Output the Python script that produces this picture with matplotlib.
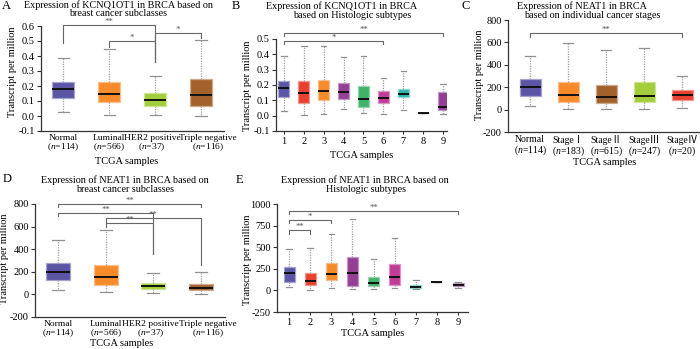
import matplotlib
matplotlib.use("Agg")
import matplotlib.pyplot as plt
import matplotlib.colors as mcolors
from matplotlib.transforms import ScaledTranslation

plt.rcParams['font.family'] = ['Liberation Serif', 'Noto Sans CJK SC', 'DejaVu Sans']
plt.rcParams['mathtext.fontset'] = 'custom'
plt.rcParams['mathtext.it'] = 'Liberation Serif:italic'
plt.rcParams['mathtext.rm'] = 'Liberation Serif'

W, H = 700, 349

# colours
BLUE = '#5a55a5'
ORANGE = '#f68b2c'
LIME = '#a3cd3b'
BROWN = '#a3622c'
RED = '#e8412f'
PURPLE = '#933f93'
GREEN = '#3fb36a'
MAGENTA = '#c03c97'
TEAL = '#2bb5a9'
DARK = '#444444'

# ---- panel A: KCNQ1OT1, subclasses ----
a_labels = ['Normal\n($\\it{n}$=114)', 'Luminal\n($\\it{n}$=566)',
            'HER2 positive\n($\\it{n}$=37)', 'Triple negative\n($\\it{n}$=116)']
a_lo = [0.03, 0.005, 0.005, -0.002]
a_q1 = [0.12, 0.095, 0.07, 0.065]
a_med = [0.178, 0.15, 0.105, 0.143]
a_q3 = [0.23, 0.23, 0.155, 0.25]
a_hi = [0.385, 0.445, 0.265, 0.505]
a_colors = [BLUE, ORANGE, LIME, BROWN]
# (x1, x2, y, left leg end, right leg end, label)
a_sig = [(1, 3, 0.605, 0.487, 0.36, '**'),
         (2, 3, 0.498, 0.46, 0.36, '*'),
         (3, 4, 0.556, 0.36, 0.52, '*')]

# ---- panel B: KCNQ1OT1, histologic subtypes ----
b_labels = ['1', '2', '3', '4', '5', '6', '7', '8', '9']
b_lo = [0.033, 0.004, 0.009, 0.043, 0.02, 0.009, 0.037, 0.015, 0.013]
b_q1 = [0.124, 0.08, 0.102, 0.111, 0.054, 0.085, 0.124, 0.015, 0.035]
b_med = [0.178, 0.146, 0.161, 0.152, 0.109, 0.113, 0.139, 0.015, 0.054]
b_q3 = [0.228, 0.226, 0.233, 0.211, 0.196, 0.161, 0.172, 0.015, 0.152]
b_hi = [0.39, 0.456, 0.456, 0.383, 0.387, 0.248, 0.289, 0.015, 0.209]
b_colors = [BLUE, RED, ORANGE, PURPLE, GREEN, MAGENTA, TEAL, DARK, PURPLE]
b_sig = [(1, 9, 0.541, 0.522, 0.522, '**'),
         (1, 6, 0.487, 0.467, 0.467, '*')]

# ---- panel C: NEAT1, stages ----
c_labels = ['Normal\n($\\it{n}$=114)', 'StageⅠ\n($\\it{n}$=183)', 'StageⅡ\n($\\it{n}$=615)',
            'StageⅢ\n($\\it{n}$=247)', 'StageⅣ\n($\\it{n}$=20)']
c_lo = [36, 9, 3, 3, 15]
c_q1 = [119, 71, 59, 65, 83]
c_med = [199, 130, 113, 119, 127]
c_q3 = [273, 249, 216, 249, 172]
c_hi = [480, 599, 536, 551, 302]
c_colors = [BLUE, ORANGE, BROWN, LIME, RED]
c_sig = [(1, 5, 681, 646, 646, '**')]

# ---- panel D: NEAT1, subclasses ----
d_labels = a_labels
d_lo = [36, 18, 12, 6]
d_q1 = [125, 81, 50, 35]
d_med = [200, 152, 70, 56]
d_q3 = [275, 263, 100, 88]
d_hi = [480, 570, 188, 197]
d_colors = [BLUE, ORANGE, LIME, BROWN]
d_sig = [(1, 4, 800, 776, 776, '**'),
         (1, 3, 720, 697, 359, '**'),
         (2, 4, 673, 632, 256, '**'),
         (2, 3, 629, 600, 359, '**')]

# ---- panel E: NEAT1, histologic subtypes ----
e_labels = b_labels
e_lo = [38, 8, 27, 19, 15, 31, 19, 92, 23]
e_q1 = [99, 57, 118, 53, 46, 61, 23, 92, 46]
e_med = [198, 111, 187, 202, 88, 160, 38, 92, 61]
e_q3 = [267, 198, 321, 382, 153, 309, 61, 92, 80]
e_hi = [477, 485, 649, 828, 363, 607, 115, 92, 99]
e_colors = [BLUE, RED, ORANGE, PURPLE, GREEN, MAGENTA, TEAL, DARK, PURPLE]
e_sig = [(1, 9, 924, 886, 886, '**'),
         (1, 3, 817, 779, 779, '*'),
         (1, 2, 702, 657, 657, '**')]


def fx(x):
    return x / W


def fy(y):
    return 1 - y / H


def lighter(c, amt=0.45):
    r, g, b = mcolors.to_rgb(c)
    return (r + (1 - r) * amt, g + (1 - g) * amt, b + (1 - b) * amt)


def panel(box, lo, q1, med, q3, hi, colors, labels, ylim, yticks, yfmt,
          xlim, width, sig, xtick_len=0, xsize=7.5, shifts=None):
    l, t, r, b = box
    ax = fig.add_axes([fx(l), fy(b), fx(r - l), (b - t) / H])
    stats = [dict(whislo=lo[i], q1=q1[i], med=med[i], q3=q3[i], whishi=hi[i])
             for i in range(len(lo))]
    parts = ax.bxp(stats, positions=range(1, len(lo) + 1), widths=width,
                   patch_artist=True, showfliers=False,
                   whiskerprops=dict(color='#a0a0a0', lw=0.9, ls=(0, (1, 1))),
                   capprops=dict(color='#909090', lw=0.9),
                   medianprops=dict(color='#111111', lw=1.4),
                   capwidths=width * 0.5)
    for p, c in zip(parts['boxes'], colors):
        p.set_facecolor(c)
        p.set_edgecolor(lighter(c))
        p.set_linewidth(0.9)
    ax.set_xlim(*xlim)
    ax.set_ylim(*ylim)
    ax.set_yticks(yticks)
    ax.set_yticklabels([yfmt.format(v) for v in yticks])
    ax.set_xticks(range(1, len(lo) + 1))
    ax.set_xticklabels(labels, linespacing=0.95)
    ax.tick_params(axis='y', length=3, width=0.8, pad=1.5, labelsize=7.5, color='#333333')
    ax.tick_params(axis='x', length=xtick_len, width=0.8, pad=2, labelsize=xsize, color='#333333')
    if shifts:
        for lab, dx in zip(ax.get_xticklabels(), shifts):
            lab.set_transform(lab.get_transform() +
                              ScaledTranslation(dx / 100, 0, fig.dpi_scale_trans))
    for s in ['top', 'right']:
        ax.spines[s].set_visible(False)
    for s in ['left', 'bottom']:
        ax.spines[s].set_color('#333333')
        ax.spines[s].set_linewidth(0.9)
    span = ylim[1] - ylim[0]
    for x1, x2, y, l1, l2, txt in sig:
        ax.plot([x1, x1, x2, x2], [l1, y, y, l2], color='#666666', lw=0.8, clip_on=False)
        ax.text((x1 + x2) / 2, y - span * 0.008, txt, ha='center', va='bottom',
                fontsize=6.3, color='#555555', clip_on=False)
    return ax


fig = plt.figure(figsize=(W / 100, H / 100), dpi=100)

panel((41, 26, 224, 131), a_lo, a_q1, a_med, a_q3, a_hi, a_colors, a_labels,
      (-0.1, 0.6), [-0.1, 0.0, 0.1, 0.2, 0.3, 0.4, 0.5, 0.6], '{:.1f}',
      (0.52, 4.5), 0.48, a_sig, xsize=6.8, shifts=[0, 0, -3, 7])
panel((276, 39, 447, 131), b_lo, b_q1, b_med, b_q3, b_hi, b_colors, b_labels,
      (-0.1, 0.5), [-0.1, 0.0, 0.1, 0.2, 0.3, 0.4, 0.5], '{:.1f}',
      (0.6, 9.2), 0.55, b_sig, xtick_len=2)
panel((508, 20, 700, 132), c_lo, c_q1, c_med, c_q3, c_hi, c_colors, c_labels,
      (-200, 800), [-200, 0, 200, 400, 600, 800], '{:d}',
      (0.42, 5.47), 0.55, c_sig, xsize=7)
panel((35, 204, 225, 317), d_lo, d_q1, d_med, d_q3, d_hi, d_colors, d_labels,
      (-200, 800), [-200, 0, 200, 400, 600, 800], '{:d}',
      (0.52, 4.5), 0.5, d_sig, xsize=6.8, shifts=[0, 0, -3, 7])
panel((277, 204, 468, 312), e_lo, e_q1, e_med, e_q3, e_hi, e_colors, e_labels,
      (-250, 1000), [-250, 0, 250, 500, 750, 1000], '{:d}',
      (0.43, 9.47), 0.52, e_sig, xtick_len=2)

# titles, one line at a time (x centre, y centre in pixels)
titles = [
    ('Expression of KCNQ1OT1 in BRCA based on', 118, 5),
    ('breast cancer subclasses', 118, 14),
    ('Expression of KCNQ1OT1 in BRCA', 342, 6),
    ('based on Histologic subtypes', 352, 16),
    ('Expression of NEAT1 in BRCA', 582, 6),
    ('based on individual cancer stages', 592, 16),
    ('Expression of NEAT1 in BRCA based on', 125, 180),
    ('breast cancer subclasses', 125, 189.5),
    ('Expression of NEAT1 in BRCA based on', 365, 180),
    ('Histologic subtypes', 366, 189.5),
]
for txt, x, y in titles:
    fig.text(fx(x), fy(y), txt, ha='center', va='center', fontsize=7.3)

for letter, x, y in [('A', 2, 6), ('B', 232, 6), ('C', 461, 6), ('D', 3, 179), ('E', 236, 180)]:
    fig.text(fx(x), fy(y), letter, ha='left', va='center', fontsize=9)

for x, y in [(12.5, 72), (247, 86), (480, 75), (5, 259), (248, 260)]:
    fig.text(fx(x), fy(y), 'Transcript per million', rotation=90,
             ha='center', va='center', fontsize=7.5)

for x, y in [(127, 162), (362, 155), (605, 163), (122, 344), (373, 333)]:
    fig.text(fx(x), fy(y), 'TCGA samples', ha='center', va='center', fontsize=7.5)

fig.savefig('out.png', dpi=100)
